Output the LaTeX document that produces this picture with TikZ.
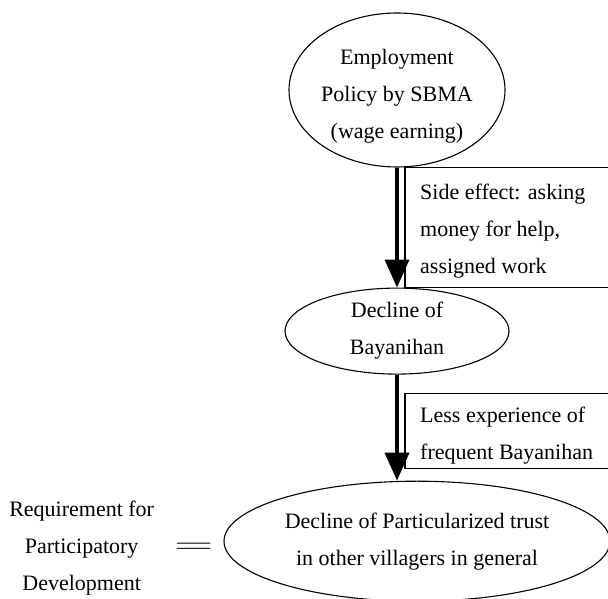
\documentclass[tikz,border=0pt]{standalone}
\usepackage{fontspec}
\setmainfont{Liberation Serif}
\usetikzlibrary{shapes.geometric, arrows.meta, positioning, calc}

\tikzset{
  oval/.style={ellipse, draw, line width=1.1pt, inner sep=0pt, align=center},
  flow/.style={line width=3.6pt, -{Triangle[width=24pt,length=28pt]}},
  notebox/.style={line width=1.2pt},
  note/.style={align=left, inner sep=0pt},
}

\begin{document}
\begin{tikzpicture}[x=1pt, y=1pt, font=\fontsize{22}{37}\selectfont]
    \useasboundingbox (0,0) rectangle (608,599);
    \coordinate (edge) at (608,0);

    % Nodes of the chain
    \node[oval, inner ysep=-4pt, minimum width=216pt, minimum height=154pt] (policy) at (397,509) {\rule{0pt}{28pt}Employment\\Policy by SBMA\\(wage earning)};
    \node[oval, minimum width=224pt, minimum height=86pt, below=120pt of policy] (decline) {Decline of\\Bayanihan};
    \node[oval, minimum width=386pt, minimum height=120pt, below=106pt of decline, xshift=20pt] (trust) {Decline of Particularized trust\\in other villagers in general};

    % Left-hand side
    \node[inner sep=0pt, left=10pt of trust, yshift=-7pt] (eq) {\scalebox{2.6}[1.4]{$=$}};
    \node[align=center, inner sep=0pt, left=20pt of eq] (req) {Requirement for\\Participatory\\Development};

    % Arrows
    \draw[flow] (policy.south) -- (decline.north);
    \draw[flow] (decline.south) -- (decline.south |- trust.north);

    % Boxed notes beside the arrows
    \coordinate (b1) at ([xshift=8pt]policy.south);
    \draw[notebox] (edge |- b1) -- (b1) -- (b1 |- decline.north) -- (edge |- decline.north);
    \node[note, anchor=west] (effect) at ($(b1)!0.5!(b1 |- decline.north) + (15,-4)$) {Side effect: asking\\money for help,\\assigned work};

    \coordinate (b2) at ([shift={(8pt,-19pt)}]decline.south);
    \path (b2 |- trust.north) ++(0,12) coordinate (b2end);
    \draw[notebox] (edge |- b2) -- (b2) -- (b2end) -- (edge |- b2end);
    \node[note, anchor=west] (less) at ($(b2)!0.5!(b2end) + (15,-4)$) {Less experience of\\frequent Bayanihan};

\end{tikzpicture}
\end{document}
